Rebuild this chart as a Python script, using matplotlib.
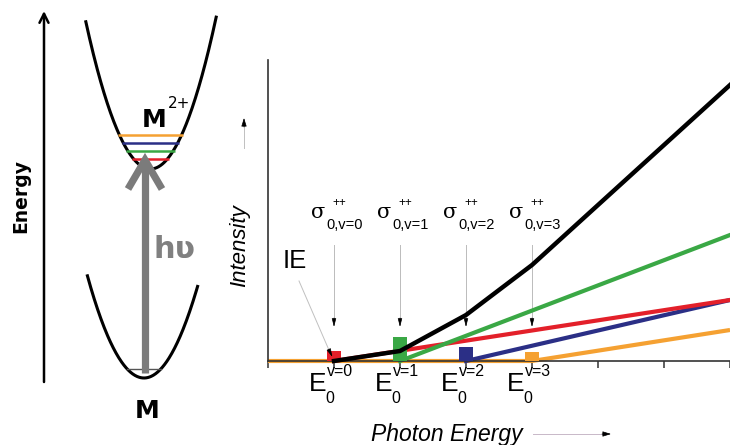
import numpy as np
import matplotlib
matplotlib.use("Agg")
import matplotlib.pyplot as plt

# ---------------- data ----------------
# photon-energy positions (tick units) of the vibrational thresholds E0^v
thresholds = [1, 2, 3, 4]
threshold_sup = ["v=0", "v=1", "v=2", "v=3"]
sigma_sub = ["0,v=0", "0,v=1", "0,v=2", "0,v=3"]
step_heights = [10, 24, 14, 9]           # bar (step) heights at each threshold
level_colors = ["#e3202a", "#3aa845", "#2b2f86", "#f5a132"]

# partial cross-section lines (x in tick units, y in intensity units)
red_x, red_y = [1, 7], [0, 61]
green_x, green_y = [2, 7], [0, 126]
blue_x, blue_y = [3, 7], [0, 61]
orange_x, orange_y = [0, 4, 7], [0, 0, 31]
# total intensity
total_x = [1, 2, 3, 4, 7]
total_y = [0, 10, 46, 96, 276]
xticks = [0, 1, 2, 3, 4, 5, 6, 7]

W, H = 730, 445
fig = plt.figure(figsize=(W / 100, H / 100), dpi=100)

# background axes in pixel coordinates for the potential diagram
ax0 = fig.add_axes([0, 0, 1, 1], zorder=0)
ax0.set_xlim(0, W)
ax0.set_ylim(H, 0)
ax0.axis("off")

def arrow(a, start, end, color, lw, hl, hw, style="->", mscale=1.0, z=3, coords="data"):
    a.annotate("", xy=end, xytext=start, xycoords=coords, textcoords=coords,
               arrowprops=dict(arrowstyle=f"{style},head_length={hl*0.72},head_width={hw*0.72}",
                               lw=lw, color=color, shrinkA=0, shrinkB=0,
                               mutation_scale=mscale),
               zorder=z, annotation_clip=False)

# Energy axis arrow
arrow(ax0, (44, 382), (44, 11), "black", 1.8, 9, 4.5)
ax0.text(21, 196, "Energy", rotation=90, ha="center", va="center",
         fontsize=13.5, fontweight="bold", family="DejaVu Sans")

# upper (M2+) well
cx_u, bot_u, k_u = 150.5, 169, 0.0352
xu = np.linspace(cx_u - 65, cx_u + 66, 200)
ax0.plot(xu, bot_u - k_u * (xu - cx_u) ** 2, color="black", lw=2.2, solid_capstyle="butt")
# lower (M) well
cx_l, bot_l, k_l = 144, 378, 0.0319
xl = np.linspace(cx_l - 57, cx_l + 54, 200)
ax0.plot(xl, bot_l - k_l * (xl - cx_l) ** 2, color="black", lw=2.2, solid_capstyle="butt")
# ground vibrational level
hw0 = np.sqrt((bot_l - 369) / k_l)
ax0.plot([cx_l - hw0, cx_l + hw0], [369, 369], color="#555555", lw=1.0)

# vibrational levels of M2+
level_y = [159, 151, 143, 135]
for yv, c in zip(level_y, level_colors):
    hw = np.sqrt((bot_u - yv) / k_u) + 1.5
    ax0.plot([cx_u - hw, cx_u + hw], [yv, yv], color=c, lw=1.8, solid_capstyle="butt")

# photon arrow
ax0.plot([145, 145], [373, 165], color="#7b7b7b", lw=5.2, solid_capstyle="butt")
ax0.plot([128, 145, 162], [189, 160, 189], color="#7b7b7b", lw=5.2,
         solid_joinstyle="miter", solid_capstyle="butt")
ax0.text(154, 258, "h\u028b", fontsize=22, fontweight="bold", color="#808080",
         family="DejaVu Sans", ha="left", va="baseline")

ax0.text(142, 127, "M", fontsize=18, fontweight="bold", family="DejaVu Sans",
         ha="left", va="baseline")
ax0.text(168, 108, "2+", fontsize=11, family="DejaVu Sans", ha="left", va="baseline")
ax0.text(135, 418, "M", fontsize=18, fontweight="bold", family="DejaVu Sans",
         ha="left", va="baseline")

# axis titles
ax0.text(371, 441, "Photon Energy", fontsize=16.5, style="italic",
         family="Liberation Sans", ha="left", va="baseline")
ax0.plot([533, 606], [434, 434], color="#c8b8c8", lw=0.7)
arrow(ax0, (602, 434), (611, 434), "black", 0.5, 7, 2.2, style="-|>")
ax0.text(240, 246, "Intensity", fontsize=16, style="italic", rotation=90,
         family="Liberation Sans", ha="center", va="center")
ax0.plot([244, 244], [148, 124], color="#c0c0c0", lw=0.7)
arrow(ax0, (244, 127), (244, 118), "black", 0.5, 7, 2.2, style="-|>")

# ---------------- chart axes ----------------
ax = fig.add_axes([268 / W, (H - 361) / H, 462 / W, 301 / H], zorder=1)
ax.set_facecolor("none")
ax.set_xlim(0, 7)
ax.set_ylim(0, 301)
for s in ["top", "right"]:
    ax.spines[s].set_visible(False)
for s in ["left", "bottom"]:
    ax.spines[s].set_color("#333333")
    ax.spines[s].set_linewidth(1.2)
ax.set_xticks(xticks)
ax.set_xticklabels([])
ax.set_yticks([])
ax.tick_params(axis="x", direction="out", length=5, width=1.1, color="#333333")

lw_c = 3.0
ax.plot(orange_x, orange_y, color=level_colors[3], lw=lw_c, zorder=2, clip_on=False,
        solid_capstyle="butt")
ax.plot(blue_x, blue_y, color=level_colors[2], lw=lw_c, zorder=2, clip_on=False)
ax.plot(red_x, red_y, color=level_colors[0], lw=lw_c, zorder=2, clip_on=False)
ax.plot(green_x, green_y, color=level_colors[1], lw=lw_c, zorder=2, clip_on=False)
ax.bar(thresholds, step_heights, width=0.21, color=level_colors, zorder=3)
ax.plot(total_x, total_y, color="black", lw=3.2, zorder=4, clip_on=False)

# sigma labels with arrows and E0 labels
for xv, sub, sup in zip(thresholds, sigma_sub, threshold_sup):
    ax.annotate("\u03c3", xy=(xv, 0), xytext=(-16, 143), textcoords="offset pixels",
                fontsize=15, family="DejaVu Serif", ha="center", va="baseline")
    ax.annotate("++", xy=(xv, 0), xytext=(5, 155), textcoords="offset pixels",
                fontsize=8.5, family="Liberation Sans", ha="center", va="baseline")
    ax.annotate(sub, xy=(xv, 0), xytext=(-8, 132), textcoords="offset pixels",
                fontsize=10.5, family="Liberation Sans", ha="left", va="baseline")
    ax.plot([xv, xv], [116, 41], color="#bbbbbb", lw=0.7, zorder=1)
    arrow(ax, (xv, 43), (xv, 34), "black", 0.5, 7, 1.8, style="-|>")
    ax.annotate("E", xy=(xv, 0), xytext=(-25, -30), textcoords="offset pixels",
                fontsize=19, family="Liberation Sans", ha="left", va="baseline",
                annotation_clip=False)
    ax.annotate(sup, xy=(xv, 0), xytext=(-7, -15), textcoords="offset pixels",
                fontsize=11.5, family="Liberation Sans", ha="left", va="baseline",
                annotation_clip=False)
    ax.annotate("0", xy=(xv, 0), xytext=(-9, -42), textcoords="offset pixels",
                fontsize=11.5, family="Liberation Sans", ha="left", va="baseline",
                annotation_clip=False)

# IE label
ax.annotate("IE", xy=(0, 0), xytext=(15, 93), textcoords="offset pixels",
            fontsize=18.5, family="Liberation Sans", ha="left", va="baseline")
ax.plot([0.47, 0.93], [80, 10], color="#c0c0c0", lw=0.7, zorder=1)
arrow(ax, (0.925, 11), (0.975, 4), "black", 0.5, 7, 1.8, style="-|>")

fig.savefig("out.png", dpi=100)
